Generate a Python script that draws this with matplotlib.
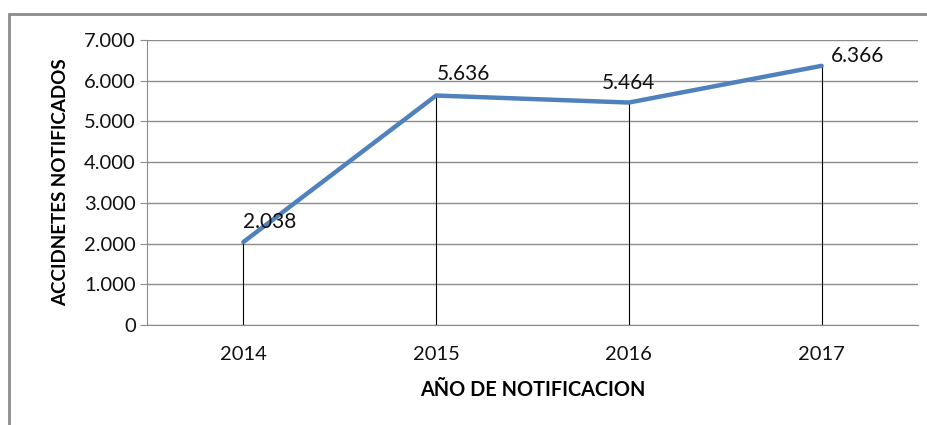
import matplotlib
matplotlib.use("Agg")
import matplotlib.pyplot as plt
from matplotlib.patches import Rectangle
from matplotlib.ticker import FuncFormatter

years = ["2014", "2015", "2016", "2017"]
accidentes = [2038, 5636, 5464, 6366]
y_ticks = [0, 1000, 2000, 3000, 4000, 5000, 6000, 7000]

plt.rcParams['font.family'] = ['Lato', 'DejaVu Sans']

fig = plt.figure(figsize=(9.28, 4.25), dpi=100)
ax = fig.add_axes([147 / 928, 100 / 425, 771 / 928, 285 / 425])

# outer frame of the chart (runs off the right and bottom of the image)
fig.patches.append(Rectangle((9 / 928, -0.1), 1.0, (425 - 14) / 425 + 0.1,
                             transform=fig.transFigure, fill=False,
                             edgecolor="#8c8c8c", linewidth=2.0))

x = list(range(len(years)))

# drop lines from each point to the axis
for xi, v in zip(x, accidentes):
    ax.plot([xi, xi], [0, v], color="black", linewidth=0.8, zorder=2)

ax.plot(x, accidentes, color="#4F81BD", linewidth=3.2, zorder=3,
        solid_capstyle="round", solid_joinstyle="miter")

fmt = lambda v: f"{int(v):,}".replace(",", ".")

# label offsets in pixels (dx, dy) as placed in the reference
offsets = [(26, 20), (27, 22), (0, 20), (36, 10)]
for xi, v, (dx, dy) in zip(x, accidentes, offsets):
    ax.annotate(fmt(v), (xi, v), xytext=(dx * 0.72, dy * 0.72),
                textcoords="offset points", ha="center", va="center",
                fontsize=15, color="#111111")

ax.set_xlim(-0.5, len(years) - 0.5)
ax.set_ylim(0, 7000)
ax.set_yticks(y_ticks)
ax.yaxis.set_major_formatter(FuncFormatter(lambda v, p: fmt(v)))
ax.set_xticks(x)
ax.set_xticklabels(years)

ax.grid(axis="y", color="#8c8c8c", linewidth=1.0)
ax.set_axisbelow(True)
for s in ["top", "right"]:
    ax.spines[s].set_visible(False)
ax.spines["left"].set_color("#8c8c8c")
ax.spines["bottom"].set_color("#8c8c8c")
ax.tick_params(axis="y", length=5, color="#8c8c8c", labelsize=14.5,
               labelcolor="#111111", pad=3)
ax.tick_params(axis="x", length=0, labelsize=14.5, labelcolor="#111111", pad=15)

ax.set_xlabel("AÑO DE NOTIFICACION", fontsize=14.3, fontweight="bold", labelpad=12)
ax.set_ylabel("ACCIDNETES NOTIFICADOS", fontsize=13.5, fontweight="bold", labelpad=11)

fig.savefig("out.png", dpi=100)
